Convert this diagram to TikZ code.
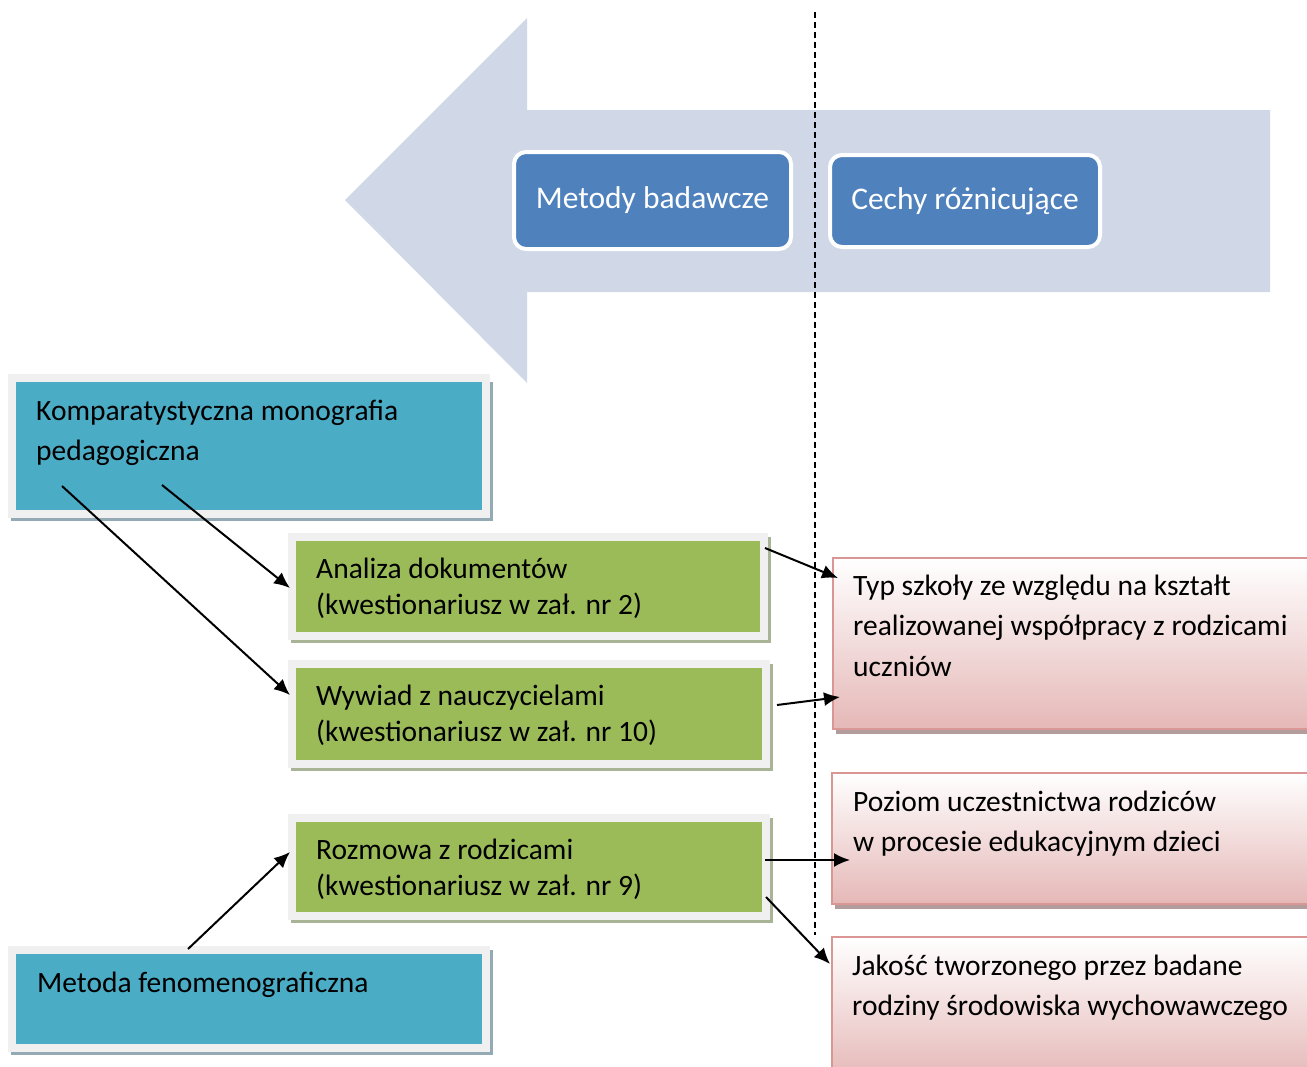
\documentclass[tikz,border=0pt]{standalone}
\usepackage{fontspec}
\setmainfont{Carlito}
\usetikzlibrary{calc,arrows.meta}
\definecolor{bigarrow}{HTML}{D0D8E8}
\definecolor{hdrblue}{HTML}{4F81BD}
\definecolor{tealc}{HTML}{4BACC6}
\definecolor{greenc}{HTML}{9BBB59}
\definecolor{framec}{HTML}{F0F0F0}
\definecolor{shblue}{HTML}{93A9B4}
\definecolor{shgreen}{HTML}{A9B396}
\definecolor{shpink}{HTML}{B39C9C}
\definecolor{pinkb}{HTML}{E5B8B7}
\definecolor{pinkd}{HTML}{D99694}
\newcommand{\mylines}[1]{\parbox[t]{600pt}{\raggedright #1}}
\tikzset{
  hdr/.style={draw=white, line width=4pt, fill=hdrblue, rounded corners=12pt, text=white,
    font=\fontsize{31.5}{36}\selectfont, inner sep=0pt},
  tealbox/.style={draw=framec, line width=8pt, fill=tealc, minimum width=474pt, inner sep=0pt},
  greenbox/.style={draw=framec, line width=8pt, fill=greenc, minimum width=474pt, inner sep=0pt},
  pinkbox/.style={draw=pinkd, line width=2pt, top color=white, bottom color=pinkb,
    minimum width=488pt, inner sep=0pt},
  txt/.style={anchor=base west, inner sep=0pt, text=black},
  conn/.style={line width=2pt, -{Latex[length=16pt,width=14pt]}},
}
\begin{document}
\begin{tikzpicture}[x=1pt,y=-1pt]
\clip (0,0) rectangle (1307,1066);
\fill[white] (0,0) rectangle (1307,1066);
% big arrow
\fill[bigarrow] (345,200) -- (527,18) -- (527,110) -- (1270,110) -- (1270,292) -- (527,292) -- (527,383) -- cycle;
% dashed separator
\draw[line width=1.5pt, dash pattern=on 6pt off 4pt] (815,12) -- (815,935);
% header boxes
\node[hdr, minimum width=277pt, minimum height=97pt] (metody) at (652.5,200.5) {Metody badawcze};
\node[hdr, minimum width=270pt, minimum height=92pt] (cechy) at (965,201) {Cechy różnicujące};

% shadows
\fill[shblue] (11,382) rectangle (493,521);
\fill[shgreen] (291,537) rectangle (771,643);
\fill[shgreen] (291,664) rectangle (773,771);
\fill[shgreen] (291,818) rectangle (773,923);
\fill[shblue] (11,950) rectangle (493,1055);
\fill[shpink] (836,562) rectangle (1320,734);
\fill[shpink] (835,777) rectangle (1320,909);

% method boxes
\node[tealbox, minimum height=136pt] (komp) at (249,446) {};
\node[greenbox, minimum width=472pt, minimum height=99pt] (analiza) at (528,586.5) {};
\node[greenbox, minimum height=100pt] (wywiad) at (529,714) {};
\node[greenbox, minimum height=98pt] (rozmowa) at (529,867) {};
\node[tealbox, minimum height=98pt] (metoda) at (249,999) {};

% feature boxes
\node[pinkbox, minimum width=487pt, minimum height=171pt] (typ) at (1076.5,643.5) {};
\node[pinkbox, minimum height=131pt] (poziom) at (1076,838.5) {};
\node[pinkbox, minimum height=143pt] (jakosc) at (1076,1008.5) {};

% texts
\begin{scope}[font=\fontsize{29.5}{40.5}\selectfont]
\node[txt] (t-komp) at (36,420) {\mylines{Komparatystyczna monografia\\pedagogiczna}};
\node[txt] (t-metoda) at (37,992) {Metoda fenomenograficzna};
\node[txt] (t-typ) at (853,595) {\mylines{Typ szkoły ze względu na kształt\\realizowanej współpracy z rodzicami\\uczniów}};
\node[txt] (t-poziom) at (853,811) {\mylines{Poziom uczestnictwa rodziców\\w procesie edukacyjnym dzieci}};
\node[txt] (t-jakosc) at (852,975) {\mylines{Jakość tworzonego przez badane\\rodziny środowiska wychowawczego}};
\end{scope}
\begin{scope}[font=\fontsize{29.5}{36}\selectfont]
\node[txt] (t-analiza) at (316,578) {\mylines{Analiza dokumentów\\(kwestionariusz w zał. nr 2)}};
\node[txt] (t-wywiad) at (316,705) {\mylines{Wywiad z nauczycielami\\(kwestionariusz w zał. nr 10)}};
\node[txt] (t-rozmowa) at (316,859) {\mylines{Rozmowa z rodzicami\\(kwestionariusz w zał. nr 9)}};
\end{scope}

% connector endpoints
\coordinate (k1) at (162,485);
\coordinate (k2) at (62,486);
\coordinate (a1) at (765,548);
\coordinate (w1) at (777,705);
\coordinate (r1) at (765,860);
\coordinate (r2) at (766,897);
\coordinate (m1) at (188,949);
\coordinate (a-in) at (290,588);
\coordinate (w-in) at (290,695);
\coordinate (r-in) at (290,852);
\coordinate (typ-in1) at (838,578);
\coordinate (typ-in2) at (840,697);
\coordinate (poz-in) at (850,860);
\coordinate (jak-in) at (830,964);

\draw[conn] (k1) -- (a-in);
\draw[conn] (k2) -- (w-in);
\draw[conn] (a1) -- (typ-in1);
\draw[conn] (w1) -- (typ-in2);
\draw[conn] (r1) -- (poz-in);
\draw[conn] (r2) -- (jak-in);
\draw[conn] (m1) -- (r-in);
\end{tikzpicture}
\end{document}
